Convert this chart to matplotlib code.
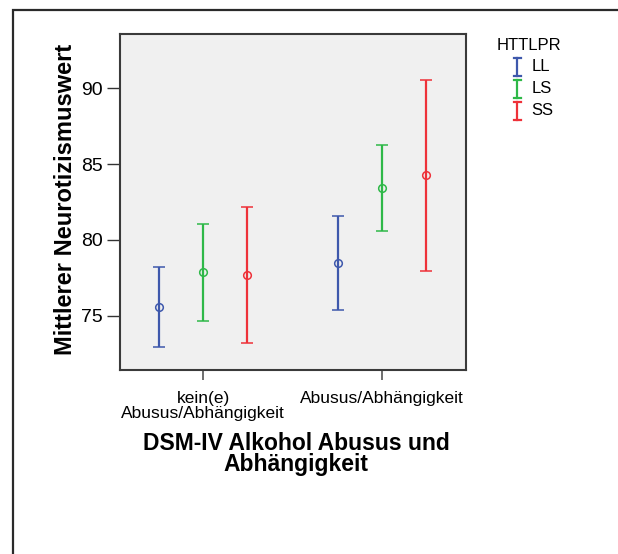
import numpy as np
import matplotlib
matplotlib.use("Agg")
import matplotlib.pyplot as plt
from matplotlib.patches import Rectangle
from matplotlib.lines import Line2D

plt.rcParams['font.family'] = ['Liberation Sans', 'DejaVu Sans']

categories = ["kein(e)\nAbusus/Abhängigkeit", "Abusus/Abhängigkeit"]
groups = ["LL", "LS", "SS"]
colors = ["#3E58AC", "#2EB848", "#EE3139"]

# mean and 95% CI per genotype, one value per category
means = {
    "LL": [75.57, 78.48],
    "LS": [77.86, 83.42],
    "SS": [77.68, 84.26],
}
ci_low = {
    "LL": [72.94, 75.38],
    "LS": [74.65, 80.61],
    "SS": [73.20, 77.93],
}
ci_high = {
    "LL": [78.22, 81.58],
    "LS": [81.07, 86.26],
    "SS": [82.17, 90.57],
}
yticks = [75, 80, 85, 90]

W, H = 618, 554
fig = plt.figure(figsize=(W / 100, H / 100), dpi=100)

# outer frame around the whole chart
fig.patches.append(Rectangle((13 / W, -0.2), 1.2, 1 - 10 / H + 0.2,
                             transform=fig.transFigure, fill=False,
                             edgecolor="#2a2a2a", linewidth=1.6))

ax = fig.add_axes([120 / W, 1 - 370 / H, 345.7 / W, 336 / H])
ax.set_facecolor("#F0F0F0")

x = np.arange(len(categories))
offsets = [-0.246, 0.0, 0.246]
for g, off, c in zip(groups, offsets, colors):
    m = np.array(means[g])
    lo = m - np.array(ci_low[g])
    hi = np.array(ci_high[g]) - m
    ax.errorbar(x + off, m, yerr=[lo, hi], fmt="o", color=c,
                markerfacecolor="none", markeredgecolor=c, markersize=5.5,
                markeredgewidth=1.1, elinewidth=1.6, capsize=4.3,
                capthick=1.8)

ax.set_xlim(-0.466, 1.468)
ax.set_ylim(71.42, 93.58)
ax.set_yticks(yticks)
ax.set_xticks(x)
ax.set_xticklabels(categories, fontsize=12.5, linespacing=1.0)
ax.tick_params(axis="y", length=9.4, width=1.0, pad=3, labelsize=14,
               color="#333333")
ax.tick_params(axis="x", length=7.2, width=1.2, pad=8, color="#555555")
for s in ax.spines.values():
    s.set_color("#3a3a3a")
    s.set_linewidth(1.5)

fig.text(66 / W, 1 - 199.5 / H, "Mittlerer Neurotizismuswert", rotation=90,
         ha="center", va="center", fontsize=17, fontweight="bold")
fig.text(296 / W, 1 - 454 / H, "DSM-IV Alkohol Abusus und\nAbhängigkeit",
         ha="center", va="center", multialignment="center",
         fontsize=16.5, fontweight="bold", linespacing=0.85)

# legend
fig.text(497 / W, 1 - 45 / H, "HTTLPR", ha="left", va="center", fontsize=12)
for i, (g, c) in enumerate(zip(groups, colors)):
    yc = 1 - (66.7 + i * 22) / H
    xs = 517.3 / W
    half = 8.8 / H
    cap = 3.7 / W
    fig.add_artist(Line2D([xs, xs], [yc - half, yc + half], color=c, lw=1.6))
    fig.add_artist(Line2D([xs - cap, xs + cap], [yc + half, yc + half], color=c, lw=1.6))
    fig.add_artist(Line2D([xs - cap, xs + cap], [yc - half, yc - half], color=c, lw=1.6))
    fig.text(531.7 / W, yc, g, ha="left", va="center", fontsize=12)

fig.savefig("out.png", dpi=100)
